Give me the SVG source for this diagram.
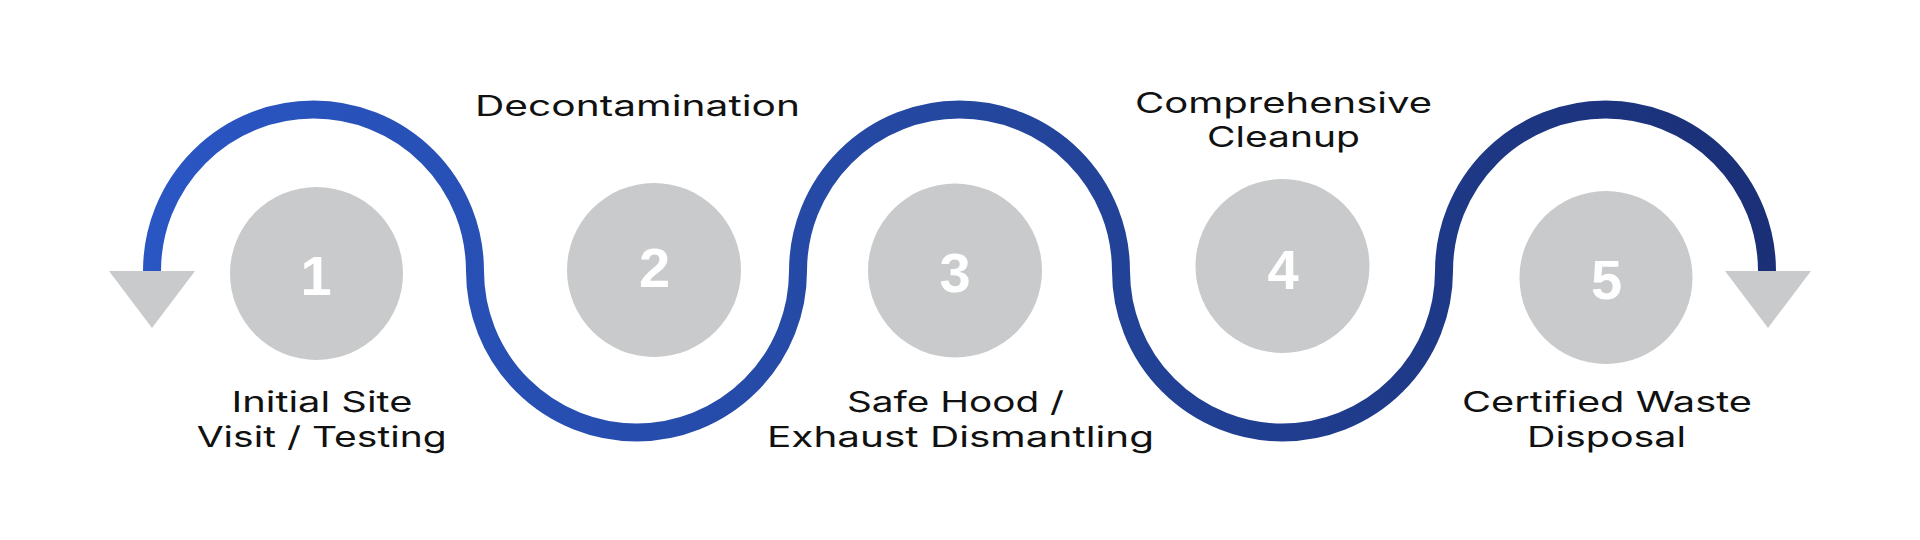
<svg xmlns="http://www.w3.org/2000/svg" width="1920" height="540" viewBox="0 0 1920 540">
  <defs>
    <linearGradient id="wave" gradientUnits="userSpaceOnUse" x1="140" y1="0" x2="1780" y2="0">
      <stop offset="0" stop-color="#2a56c4"/>
      <stop offset="0.5" stop-color="#24479f"/>
      <stop offset="1" stop-color="#1a2f76"/>
    </linearGradient>
  </defs>
  <style>
    .bg { fill: #ffffff; }
    .disc { fill: #c9cacb; }
    .num { fill: #ffffff; font-family: "Liberation Sans", Arial, sans-serif; font-weight: bold; font-size: 56px; text-anchor: middle; }
    .lbl { fill: #111111; font-family: Inter, "Open Sans", sans-serif; font-weight: 400; font-size: 28.5px; text-anchor: middle; }
    .wave { fill: none; stroke: url(#wave); stroke-width: 18; }
    .head { fill: #c9cacb; }
  </style>
  <rect class="bg" x="0" y="0" width="1920" height="540"/>

  <g id="connectors">
    <path class="wave" d="M152,271 A161.5,161.5 0 0 1 475,271 A161.5,161.5 0 0 0 798,271 A161.5,161.5 0 0 1 1121,271 A161.5,161.5 0 0 0 1444,271 A161.5,161.5 0 0 1 1767,271"/>
    <polygon class="head" points="109,271 195,271 152,328"/>
    <polygon class="head" points="1725,271 1811,271 1768,328"/>
  </g>

  <g id="step1">
    <circle class="disc" cx="316.5" cy="273.5" r="86.5"/>
    <text class="num" x="316" y="295">1</text>
    <text class="lbl" x="322" y="412" textLength="181" lengthAdjust="spacingAndGlyphs">Initial Site</text>
    <text class="lbl" x="321.7" y="447" textLength="250" lengthAdjust="spacingAndGlyphs">Visit / Testing</text>
  </g>

  <g id="step2">
    <circle class="disc" cx="654" cy="270" r="87"/>
    <text class="num" x="654.5" y="287">2</text>
    <text class="lbl" x="637.5" y="116" textLength="325" lengthAdjust="spacingAndGlyphs">Decontamination</text>
  </g>

  <g id="step3">
    <circle class="disc" cx="955" cy="270.5" r="87"/>
    <text class="num" x="955" y="292">3</text>
    <text class="lbl" x="955.5" y="412" textLength="217" lengthAdjust="spacingAndGlyphs">Safe Hood /</text>
    <text class="lbl" x="960.5" y="447" textLength="387" lengthAdjust="spacingAndGlyphs">Exhaust Dismantling</text>
  </g>

  <g id="step4">
    <circle class="disc" cx="1282.5" cy="266" r="87"/>
    <text class="num" x="1283" y="289">4</text>
    <text class="lbl" x="1283.5" y="113" textLength="297" lengthAdjust="spacingAndGlyphs">Comprehensive</text>
    <text class="lbl" x="1283.5" y="147" textLength="153" lengthAdjust="spacingAndGlyphs">Cleanup</text>
  </g>

  <g id="step5">
    <circle class="disc" cx="1606" cy="277.5" r="86.5"/>
    <text class="num" x="1606.5" y="299">5</text>
    <text class="lbl" x="1607" y="412" textLength="290" lengthAdjust="spacingAndGlyphs">Certified Waste</text>
    <text class="lbl" x="1606.5" y="447" textLength="159" lengthAdjust="spacingAndGlyphs">Disposal</text>
  </g>
</svg>
